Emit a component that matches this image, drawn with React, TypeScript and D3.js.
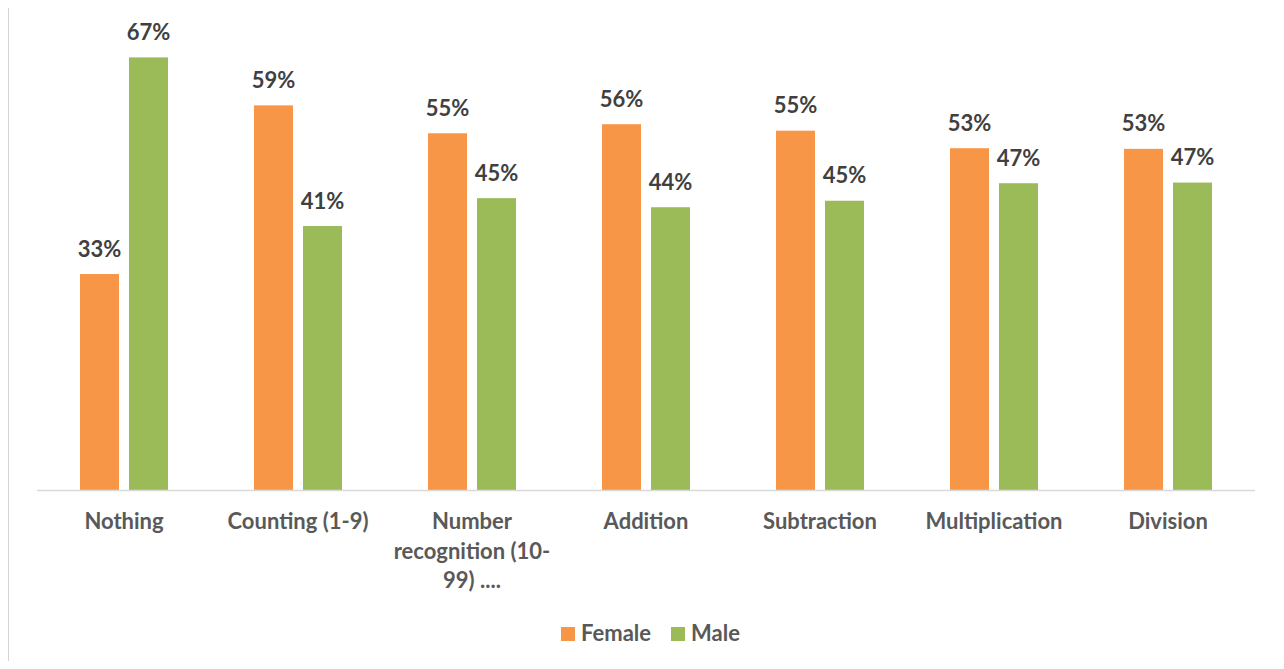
import React from "react";
import * as d3 from "d3";

const categories: string[][] = [
  ["Nothing"],
  ["Counting (1-9)"],
  ["Number", "recognition (10-", "99) ...."],
  ["Addition"],
  ["Subtraction"],
  ["Multiplication"],
  ["Division"],
];
const femaleValues = [0.333, 0.593, 0.55, 0.564, 0.554, 0.527, 0.526];
const maleValues = [0.667, 0.407, 0.45, 0.436, 0.446, 0.473, 0.474];
const seriesNames = ["Female", "Male"];
const seriesColors = ["#F79646", "#9BBB59"];

const W = 1284;
const H = 669;
const FONT = "Lato, 'Open Sans', sans-serif";
const FS = 22;

export default function App() {
  const x0 = d3.scaleBand<number>().domain(d3.range(categories.length)).range([37, 1255]);
  const y = d3.scaleLinear().domain([0, 0.7]).range([490, 36]);
  const series = [femaleValues, maleValues];
  const barW = 39;
  const gap = 10;
  const fmt = d3.format(".0%");

  return (
    <div style={{ margin: -8 }}>
      <svg width={W} height={H} style={{ display: "block", background: "#fff" }}>
        <rect x={8} y={7} width={1275} height={680} fill="#fff" stroke="#D4D4D4" strokeWidth={2} />
        {categories.map((cat, i) => {
          const cx = (x0(i) as number) + x0.bandwidth() / 2;
          return (
            <g key={i}>
              {series.map((vals, s) => {
                const bx = s === 0 ? cx - gap / 2 - barW : cx + gap / 2;
                const v = vals[i];
                return (
                  <g key={s}>
                    <rect x={bx} y={y(v)} width={barW} height={y(0) - y(v)} fill={seriesColors[s]} />
                    <text
                      x={bx + barW / 2}
                      y={y(v) - 17.5}
                      textAnchor="middle"
                      fontFamily={FONT}
                      fontWeight="bold"
                      fontSize={FS}
                      fill="#404040"
                    >
                      {fmt(v)}
                    </text>
                  </g>
                );
              })}
              {cat.map((line, li) => (
                <text
                  key={li}
                  x={cx}
                  y={529 + li * 29.5}
                  textAnchor="middle"
                  fontFamily={FONT}
                  fontWeight="bold"
                  fontSize={FS}
                  fill="#595959"
                >
                  {line}
                </text>
              ))}
            </g>
          );
        })}
        <line x1={37} x2={1255} y1={490.5} y2={490.5} stroke="#D9D9D9" strokeWidth={1.5} />
        {seriesNames.map((name, s) => {
          const lx = s === 0 ? 561 : 671;
          return (
            <g key={name}>
              <rect x={lx} y={627} width={14} height={14} fill={seriesColors[s]} />
              <text x={lx + 20} y={641} fontFamily={FONT} fontWeight="bold" fontSize={FS} fill="#595959">
                {name}
              </text>
            </g>
          );
        })}
      </svg>
    </div>
  );
}
